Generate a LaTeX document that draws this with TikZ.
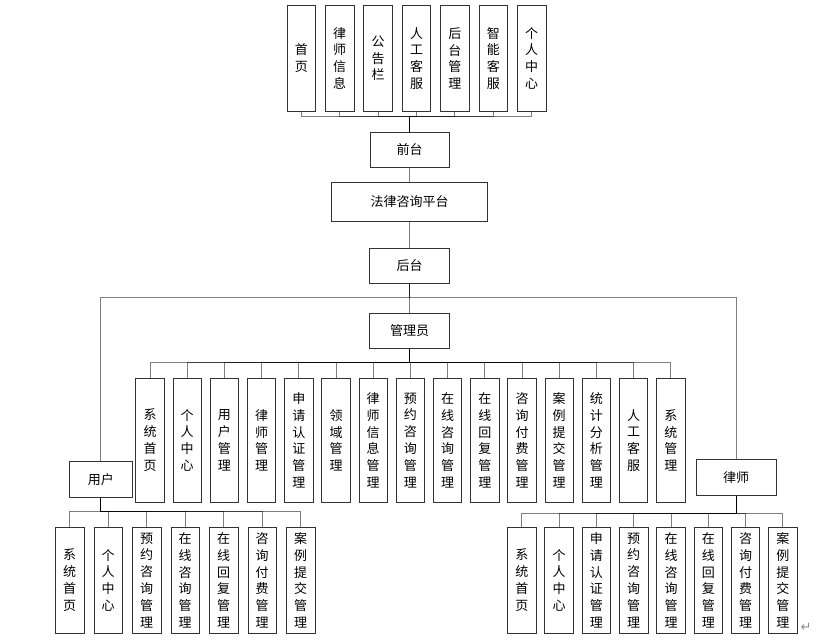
\documentclass[tikz,border=0pt]{standalone}
\usepackage{fontspec}
\newfontfamily\cjk{Noto Sans CJK SC}
\newfontfamily\dejavu{DejaVu Sans}
\begin{document}
\begin{tikzpicture}[x=1pt,y=-1pt,
  box/.style={draw=black!80, line width=0.8pt, inner sep=0pt, fill=white,
    font=\cjk\fontsize{13}{16.8}\selectfont, align=center},
  hbox/.style={box, minimum height=35.5pt},
  vbox/.style={box, minimum width=28.5pt},
  link/.style={draw=black, draw opacity=0.5, line width=0.9pt}]
\useasboundingbox (0,0) rectangle (831,642);

% top row
\foreach \lab [count=\i] in {首\\页, 律\\师\\信\\息, 公\\告\\栏, 人\\工\\客\\服, 后\\台\\管\\理, 智\\能\\客\\服, 个\\人\\中\\心}
  \node[vbox, minimum height=106.7pt] (t\i) at ({301.3+38.4*(\i-1)},58.3) {\lab};

\node[hbox, minimum width=79pt] (qt) at (409.5,150) {前台};
\node[box, minimum width=155.4pt, minimum height=39pt] (pt) at (409.5,201.8) {法律咨询平台};
\node[hbox, minimum width=80pt] (ht) at (409.5,266) {后台};
\node[hbox, minimum width=80pt] (gly) at (409.5,331) {管理员};
\node[box, minimum width=63pt, minimum height=36pt] (yh) at (100.8,479.7) {用户};
\node[box, minimum width=80pt, minimum height=36pt] (ls) at (736,477.3) {律师};

% admin row
\foreach \lab [count=\i] in {系\\统\\首\\页, 个\\人\\中\\心, 用\\户\\管\\理, 律\\师\\管\\理,
  申\\请\\认\\证\\管\\理, 领\\域\\管\\理, 律\\师\\信\\息\\管\\理, 预\\约\\咨\\询\\管\\理,
  在\\线\\咨\\询\\管\\理, 在\\线\\回\\复\\管\\理, 咨\\询\\付\\费\\管\\理, 案\\例\\提\\交\\管\\理,
  统\\计\\分\\析\\管\\理, 人\\工\\客\\服, 系\\统\\管\\理}
  \node[vbox, minimum height=124pt] (a\i) at ({150+37.2*(\i-1)},440.3) {\lab};

% user row
\foreach \lab [count=\i] in {系\\统\\首\\页, 个\\人\\中\\心, 预\\约\\咨\\询\\管\\理,
  在\\线\\咨\\询\\管\\理, 在\\线\\回\\复\\管\\理, 咨\\询\\付\\费\\管\\理, 案\\例\\提\\交\\管\\理}
  \node[vbox, minimum height=106pt] (u\i) at ({69.7+38.5*(\i-1)},580.3) {\lab};

% lawyer row
\foreach \lab [count=\i] in {系\\统\\首\\页, 个\\人\\中\\心, 申\\请\\认\\证\\管\\理, 预\\约\\咨\\询\\管\\理,
  在\\线\\咨\\询\\管\\理, 在\\线\\回\\复\\管\\理, 咨\\询\\付\\费\\管\\理, 案\\例\\提\\交\\管\\理}
  \node[vbox, minimum height=106pt] (l\i) at ({521.8+37.3*(\i-1)},580.3) {\lab};

% connectors
\foreach \i in {1,...,7}
  \draw[link] (qt.north) -- ++(0,-15) -| (t\i.south);
\draw[link] (qt.south) -- (pt.north);
\draw[link] (pt.south) -- (ht.north);
\draw[link] (ht.south) -- (gly.north);
\draw[link] (ht.south) -- ++(0,13.6) -| (yh.north);
\draw[link] (ht.south) -- ++(0,13.6) -| (ls.north);
\foreach \i in {1,...,15}
  \draw[link] (gly.south) -- ++(0,13.3) -| (a\i.north);
\foreach \i in {1,...,7}
  \draw[link] (yh.south) -- ++(0,13.3) -| (u\i.north);
\foreach \i in {1,...,8}
  \draw[link] (ls.south) -- ++(0,18) -| (l\i.north);

\node[font=\dejavu\fontsize{13}{13}\selectfont, text=black!45, inner sep=0pt] (pm) at (806,627) {↵};
\end{tikzpicture}
\end{document}
